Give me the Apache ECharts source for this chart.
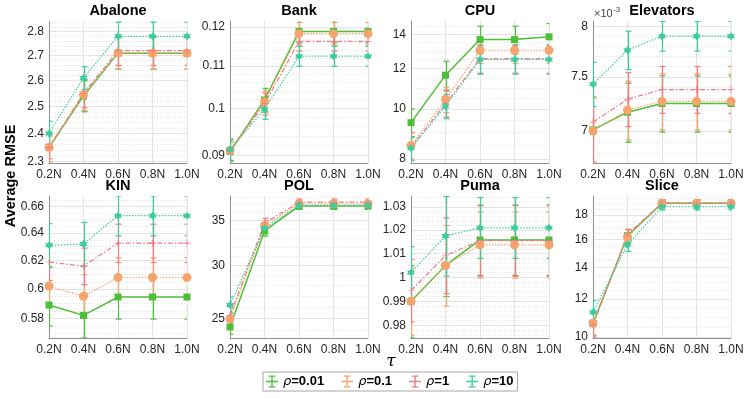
<!DOCTYPE html>
<html>
<head>
<meta charset="utf-8">
<script src="https://cdn.jsdelivr.net/npm/echarts@6/dist/echarts.min.js"></script>
<style>
  html, body { margin: 0; padding: 0; background: #fff; }
  #chart { width: 747px; height: 399px; }
</style>
</head>
<body>
<div id="chart"></div>
<script>
const taus = ["0.2N", "0.4N", "0.6N", "0.8N", "1.0N"];
const rhoNames = ["ρ=0.01", "ρ=0.1", "ρ=1", "ρ=10"];

// rows: rho = 0.01, 0.1, 1, 10
const abaloneMean = [
  [2.35, 2.54, 2.71, 2.71, 2.71],
  [2.35, 2.545, 2.71, 2.71, 2.71],
  [2.35, 2.55, 2.72, 2.72, 2.72],
  [2.40, 2.61, 2.78, 2.78, 2.78],
];
const abaloneErr = [
  [0.05, 0.06, 0.065, 0.065, 0.065],
  [0.05, 0.06, 0.065, 0.065, 0.065],
  [0.04, 0.055, 0.06, 0.06, 0.06],
  [0.045, 0.045, 0.06, 0.06, 0.06],
];
const bankMean = [
  [0.0908, 0.1019, 0.1188, 0.1188, 0.1188],
  [0.0910, 0.1015, 0.1182, 0.1182, 0.1182],
  [0.0909, 0.1010, 0.1162, 0.1162, 0.1162],
  [0.0912, 0.0998, 0.1124, 0.1124, 0.1124],
];
const bankErr = [
  [0.002, 0.0027, 0.003, 0.003, 0.003],
  [0.002, 0.0025, 0.003, 0.003, 0.003],
  [0.0025, 0.0025, 0.0025, 0.0025, 0.0025],
  [0.0022, 0.0022, 0.0025, 0.0025, 0.0025],
];
const cpuMean = [
  [9.41, 11.65, 13.67, 13.67, 13.84],
  [8.49, 10.44, 13.03, 13.03, 13.03],
  [8.41, 10.25, 12.55, 12.55, 12.55],
  [8.39, 10.13, 12.50, 12.50, 12.50],
];
const cpuErr = [
  [0.6, 0.75, 0.85, 0.85, 0.85],
  [0.5, 0.6, 0.75, 0.75, 0.75],
  [0.6, 0.6, 0.8, 0.8, 0.8],
  [0.45, 0.55, 0.8, 0.8, 0.8],
];
const elevatorsMean = [
  [7.01e-3, 7.17e-3, 7.25e-3, 7.25e-3, 7.25e-3],
  [7.00e-3, 7.19e-3, 7.27e-3, 7.27e-3, 7.27e-3],
  [7.08e-3, 7.29e-3, 7.38e-3, 7.38e-3, 7.38e-3],
  [7.43e-3, 7.76e-3, 7.90e-3, 7.90e-3, 7.90e-3],
];
const elevatorsErr = [
  [0.30e-3, 0.27e-3, 0.26e-3, 0.26e-3, 0.26e-3],
  [0.30e-3, 0.27e-3, 0.26e-3, 0.26e-3, 0.26e-3],
  [0.35e-3, 0.25e-3, 0.22e-3, 0.22e-3, 0.22e-3],
  [0.21e-3, 0.19e-3, 0.15e-3, 0.15e-3, 0.15e-3],
];
const kinMean = [
  [0.589, 0.582, 0.5945, 0.5945, 0.5945],
  [0.602, 0.595, 0.608, 0.608, 0.608],
  [0.619, 0.616, 0.6326, 0.6326, 0.6326],
  [0.631, 0.632, 0.653, 0.653, 0.653],
];
const kinErr = [
  [0.014, 0.015, 0.015, 0.015, 0.015],
  [0.014, 0.015, 0.014, 0.014, 0.014],
  [0.013, 0.013, 0.014, 0.014, 0.014],
  [0.016, 0.016, 0.015, 0.015, 0.015],
];
const polMean = [
  [24.3, 33.8, 36.8, 36.8, 36.8],
  [25.0, 34.4, 37.1, 37.1, 37.1],
  [25.3, 34.7, 37.3, 37.3, 37.3],
  [26.2, 34.1, 36.9, 36.9, 36.9],
];
const polErr = [
  [0.6, 0.6, 0.4, 0.4, 0.4],
  [0.5, 0.6, 0.4, 0.4, 0.4],
  [0.6, 0.6, 0.4, 0.4, 0.4],
  [0.75, 0.6, 0.4, 0.4, 0.4],
];
const pumaMean = [
  [0.990, 1.005, 1.0158, 1.0158, 1.0158],
  [0.990, 1.005, 1.0137, 1.0137, 1.0137],
  [0.9945, 1.0092, 1.0155, 1.0155, 1.0155],
  [1.002, 1.0175, 1.021, 1.021, 1.021],
];
const pumaErr = [
  [0.015, 0.013, 0.015, 0.015, 0.015],
  [0.014, 0.017, 0.014, 0.014, 0.014],
  [0.013, 0.016, 0.015, 0.015, 0.015],
  [0.011, 0.017, 0.013, 0.013, 0.013],
];
const sliceMean = [
  [10.66, 16.3, 19.05, 19.05, 19.05],
  [10.7, 16.2, 19.05, 19.05, 19.05],
  [10.6, 16.4, 19.1, 19.1, 19.1],
  [11.26, 15.6, 18.75, 18.75, 18.75],
];
const sliceErr = [
  [0.6, 0.5, 0.3, 0.3, 0.3],
  [0.6, 0.55, 0.3, 0.3, 0.3],
  [0.6, 0.4, 0.3, 0.3, 0.3],
  [0.65, 0.5, 0.3, 0.3, 0.3],
];

// y tick labels (log axes)
const abaloneTicks = [2.3, 2.4, 2.5, 2.6, 2.7, 2.8];
const bankTicks = [0.09, 0.1, 0.11, 0.12];
const cpuTicks = [8, 10, 12, 14];
const elevatorsTicks = [7e-3, 7.5e-3, 8e-3];
const kinTicks = [0.58, 0.6, 0.62, 0.64, 0.66];
const polTicks = [25, 30, 35];
const pumaTicks = [0.98, 0.99, 1, 1.01, 1.02, 1.03];
const sliceTicks = [10, 12, 14, 16, 18];

const panels = [
  { name: "Abalone", mean: abaloneMean, err: abaloneErr, ticks: abaloneTicks, lim: [2.295, 2.845], minor: 0.02 },
  { name: "Bank", mean: bankMean, err: bankErr, ticks: bankTicks, lim: [0.0885, 0.1216], minor: 0.002 },
  { name: "CPU", mean: cpuMean, err: cpuErr, ticks: cpuTicks, lim: [7.85, 14.86], minor: 0.5 },
  { name: "Elevators", mean: elevatorsMean, err: elevatorsErr, ticks: elevatorsTicks, lim: [6.72e-3, 8.054e-3], minor: 0.1e-3, scale: 1000 },
  { name: "KIN", mean: kinMean, err: kinErr, ticks: kinTicks, lim: [0.567, 0.668], minor: 0.005 },
  { name: "POL", mean: polMean, err: polErr, ticks: polTicks, lim: [23.4, 38.1], minor: 1 },
  { name: "Puma", mean: pumaMean, err: pumaErr, ticks: pumaTicks, lim: [0.9749, 1.0347], minor: 0.002 },
  { name: "Slice", mean: sliceMean, err: sliceErr, ticks: sliceTicks, lim: [9.95, 19.74], minor: 0.5 },
];

const colors = ["#4DBE38", "#F4A46C", "#F27983", "#3DCB9C"];
const lineTypes = ["solid", [1.5, 1.5], [5, 2, 1.5, 2], [1.5, 1.5]];
const symbols = [
  "rect",
  "circle",
  "path://M0,4.5h10v1H0z M4.5,0h1v10h-1z",
  "path://M10,0L12.9,5L18.66,5L15.8,10L18.66,15L12.9,15L10,20L7.1,15L1.34,15L4.2,10L1.34,5L7.1,5Z",
];
const symbolSizes = [7, 9, 7, 8];
const errIcon = "path://M0,9h18v2H0z M8,2h2v16H8z M4,1h10v2H4z M4,17h10v2H4z";

const colLeft = [49, 230, 411, 593];
const rowTop = [21, 196];
const plotW = 138;
const plotH = 142;
const font = "Liberation Sans";

function minorValues(lim, step, ticks) {
  const out = [];
  for (let n = Math.ceil(lim[0] / step); n * step <= lim[1]; n++) {
    const v = +(n * step).toPrecision(10);
    if (!ticks.some((t) => Math.abs(t - v) < step / 10)) out.push(v);
  }
  return out;
}

function renderErrorBar(params, api) {
  const x = api.value(0);
  const y = api.value(1);
  const e = api.value(2);
  const top = api.coord([x, y + e]);
  const bot = api.coord([x, y - e]);
  const cx = Math.round(top[0]) + 0.5;
  const cap = 3;
  const style = { stroke: api.visual("color"), lineWidth: 1.2 };
  return {
    type: "group",
    children: [
      { type: "line", shape: { x1: cx, y1: top[1], x2: cx, y2: bot[1] }, style },
      { type: "line", shape: { x1: cx - cap, y1: top[1], x2: cx + cap, y2: top[1] }, style },
      { type: "line", shape: { x1: cx - cap, y1: bot[1], x2: cx + cap, y2: bot[1] }, style },
    ],
  };
}

const grid = [];
const xAxis = [];
const yAxis = [];
const title = [];
const series = [];

panels.forEach((p, i) => {
  const left = colLeft[i % 4];
  const top = rowTop[Math.floor(i / 4)];
  grid.push({ left, top, width: plotW, height: plotH });
  title.push({
    text: p.name,
    left: left + plotW / 2,
    top: top - 18,
    textAlign: "center",
    padding: 0,
    textStyle: { fontFamily: font, fontSize: 14.5, fontWeight: "bold", color: "#000" },
  });
  xAxis.push({
    type: "category",
    gridIndex: i,
    data: taus,
    boundaryGap: false,
    axisLine: { lineStyle: { color: "#8f8f8f" } },
    axisTick: { show: false },
    axisLabel: { interval: 0, margin: 6, fontFamily: font, fontSize: 12, color: "#262626" },
    splitLine: { show: true, interval: 0, lineStyle: { color: "#e4e4e4", width: 1 } },
  });
  const k = p.scale || 1;
  yAxis.push({
    type: "log",
    logBase: 10,
    gridIndex: i,
    min: p.lim[0],
    max: p.lim[1],
    axisLine: { show: true, lineStyle: { color: "#8f8f8f" } },
    axisTick: { show: false, customValues: p.ticks },
    axisLabel: {
      customValues: p.ticks,
      margin: 5,
      fontFamily: font,
      fontSize: 12,
      color: "#262626",
      formatter: (v) => String(+(v * k).toPrecision(6)),
    },
    splitLine: { show: true, lineStyle: { color: "#e4e4e4", width: 1 } },
  });
  yAxis.push({
    type: "log",
    logBase: 10,
    gridIndex: i,
    min: p.lim[0],
    max: p.lim[1],
    axisLine: { show: false },
    axisTick: { show: false, customValues: minorValues(p.lim, p.minor, p.ticks) },
    axisLabel: { show: false },
    splitLine: { show: true, lineStyle: { color: "#e0e0e0", width: 1, type: [1, 2] } },
  });

  p.mean.forEach((vals, r) => {
    series.push({
      name: rhoNames[r],
      type: "custom",
      xAxisIndex: i,
      yAxisIndex: 2 * i,
      clip: true,
      itemStyle: { color: colors[r] },
      encode: { x: 0, y: 1 },
      data: vals.map((v, j) => [j, v, p.err[r][j]]),
      renderItem: renderErrorBar,
      z: 2,
    });
    series.push({
      name: rhoNames[r],
      type: "line",
      xAxisIndex: i,
      yAxisIndex: 2 * i,
      data: vals,
      symbol: symbols[r],
      symbolSize: symbolSizes[r],
      showSymbol: true,
      itemStyle: { color: colors[r] },
      lineStyle: { color: colors[r], width: r === 0 ? 1.5 : 1.2, type: lineTypes[r] },
      z: 2,
    });
  });
});

const chart = echarts.init(document.getElementById("chart"));

const option = {
  animation: false,
  textStyle: { fontFamily: font },
  title,
  grid,
  xAxis,
  yAxis,
  series,
  legend: {
    data: rhoNames.map((n) => ({ name: n, icon: errIcon })),
    left: 263,
    top: 372,
    orient: "horizontal",
    itemWidth: 12,
    itemHeight: 14,
    itemGap: 17,
    padding: [3, 4, 3, 3],
    borderColor: "#a6a6a6",
    borderWidth: 1,
    borderRadius: 0,
    backgroundColor: "#fff",
    selectedMode: false,
    formatter: (n) => "{i|ρ}{b|" + n.slice(1) + "}",
    textStyle: {
      rich: {
        i: { fontFamily: "DejaVu Sans", fontStyle: "italic", fontSize: 13, color: "#000" },
        b: { fontFamily: font, fontWeight: "bold", fontSize: 13, color: "#000" },
      },
    },
  },
  graphic: [
    {
      type: "text",
      x: 11,
      y: 176,
      rotation: Math.PI / 2,
      style: {
        text: "Average RMSE",
        font: "bold 14.5px 'Liberation Sans'",
        fill: "#000",
        align: "center",
        verticalAlign: "middle",
        textAlign: "center",
        textVerticalAlign: "middle",
      },
    },
    {
      type: "text",
      x: 391,
      y: 362,
      style: {
        text: "τ",
        font: "italic 17px 'DejaVu Serif'",
        fill: "#000",
        align: "center",
        verticalAlign: "middle",
        textAlign: "center",
        textVerticalAlign: "middle",
      },
    },
    {
      type: "text",
      x: 594,
      y: 14,
      style: {
        text: "×10",
        font: "11px 'Liberation Sans'",
        fill: "#444",
        verticalAlign: "middle",
        textVerticalAlign: "middle",
      },
    },
    {
      type: "text",
      x: 613,
      y: 10,
      style: {
        text: "-3",
        font: "8px 'Liberation Sans'",
        fill: "#444",
        verticalAlign: "middle",
        textVerticalAlign: "middle",
      },
    },
  ],
};

chart.setOption(option);

window.addEventListener("resize", () => chart.resize());
</script>
</body>
</html>
